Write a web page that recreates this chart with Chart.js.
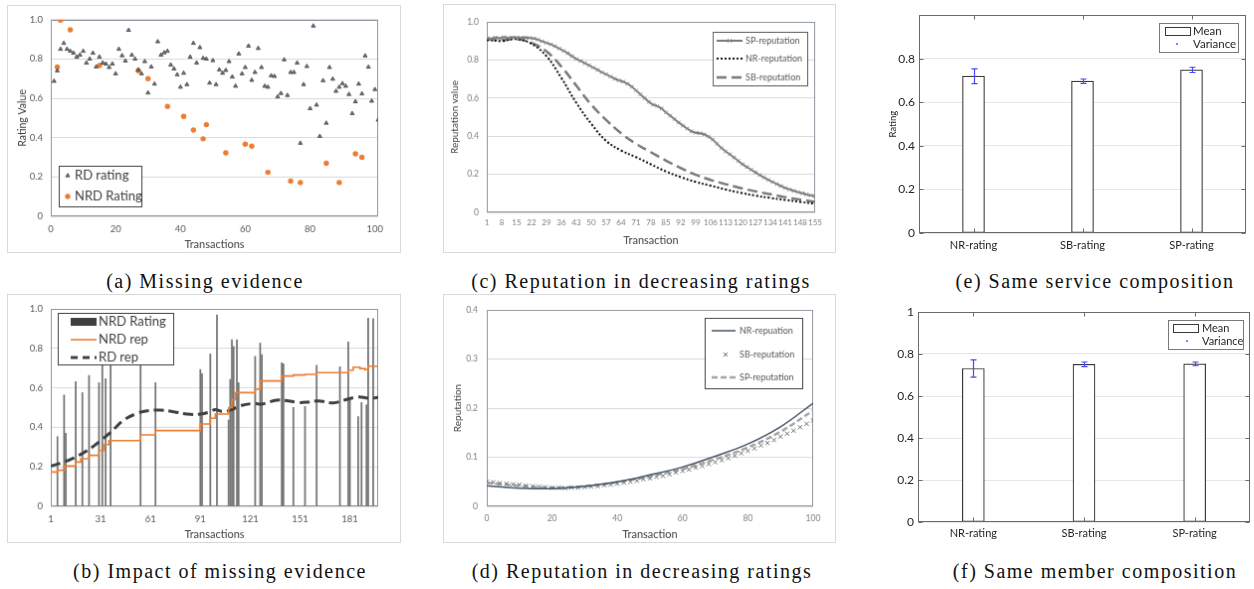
<!DOCTYPE html>
<html>
<head>
<meta charset="utf-8">
<script src="https://cdn.jsdelivr.net/npm/chart.js"></script>
<style>
  body { margin: 0; background: #fff; }
  #page { position: relative; width: 1254px; height: 589px; overflow: hidden; background: #fff; }
  canvas { position: absolute; }
  .framed { border: 1px solid #d9d9d9; }
  .cap { position: absolute; font-family: 'Liberation Serif', serif; font-size: 20px; letter-spacing: 1.5px; color: #111; white-space: nowrap; transform: translate(-50%, -50%); }
</style>
</head>
<body>
<div id="page">
  <canvas id="chA" class="framed" width="394" height="248" style="left:7px;top:5px"></canvas>
  <canvas id="chC" class="framed" width="393" height="249" style="left:443px;top:4px"></canvas>
  <canvas id="chE" width="394" height="258" style="left:860px;top:4px"></canvas>
  <canvas id="chB" class="framed" width="394" height="249" style="left:7px;top:294px"></canvas>
  <canvas id="chD" class="framed" width="393" height="249" style="left:443px;top:294px"></canvas>
  <canvas id="chF" width="394" height="260" style="left:860px;top:294px"></canvas>

  <div class="cap" style="left:205px;top:281px">(a) Missing evidence</div>
  <div class="cap" style="left:641px;top:281px">(c) Reputation in decreasing ratings</div>
  <div class="cap" style="left:1095px;top:281px">(e) Same service composition</div>
  <div class="cap" style="left:220px;top:571px">(b) Impact of missing evidence</div>
  <div class="cap" style="left:642px;top:571px">(d) Reputation in decreasing ratings</div>
  <div class="cap" style="left:1095px;top:571px">(f) Same member composition</div>
</div>
<script>
// (a) missing evidence: RD ratings are transactions 1..101 in order
var rdRating = [0.687,0.74,0.85,0.88,0.85,0.84,0.83,0.81,0.82,0.84,
  0.78,0.80,0.83,0.76,0.81,0.78,0.775,0.757,0.775,0.725,
  0.85,0.817,0.79,0.946,0.82,0.80,0.745,0.725,0.787,0.628,
  0.76,0.673,0.888,0.82,0.832,0.84,0.77,0.75,0.72,0.657,
  0.728,0.67,0.81,0.88,0.78,0.858,0.804,0.80,0.678,0.792,
  0.67,0.745,0.728,0.742,0.787,0.709,0.662,0.826,0.725,0.757,
  0.866,0.692,0.732,0.854,0.757,0.662,0.657,0.715,0.712,0.608,
  0.625,0.796,0.615,0.732,0.732,0.78,0.372,0.67,0.762,0.548,
  0.968,0.566,0.407,0.69,0.474,0.757,0.698,0.636,0.657,0.675,
  0.662,0.62,0.523,0.583,0.673,0.623,0.816,0.759,0.586,0.645,
  0.49];
var nrdTx = [2,3,6,15,27,30,36,41,44,47,48,54,60,62,67,74,77,85,89,94,96];
var nrdRating = [0.759,0.997,0.948,0.767,0.740,0.700,0.559,0.508,0.439,0.394,0.466,0.323,0.367,0.357,0.224,0.179,0.172,0.270,0.172,0.318,0.300];

// (b) impact of missing evidence
var txTicksB = [1,31,61,91,121,151,181];
var ratingTx = [5,9,10,16,20,24,30,32,34,37,55,64,91,92,97,101,108,109,110,111,113,114,124,127,128,140,141,147,154,161,175,180,181,186,188,191,192,195];
var ratingVal = [0.353,0.564,0.37,0.632,0.576,0.663,0.626,0.72,0.646,0.76,0.74,0.626,0.693,0.672,0.772,0.97,0.437,0.643,0.844,0.81,0.844,0.626,0.76,0.827,0.769,0.727,0.722,0.501,0.506,0.714,0.707,0.832,0.55,0.454,0.526,0.514,0.953,0.95];
var nrdRepTx = [1,5,9,16,19,24,30,33,36,55,64,91,97,100,108,110,112,124,127,140,147,154,161,180,183,187,190,192,198];
var nrdRep = [0.174,0.183,0.204,0.224,0.241,0.258,0.283,0.313,0.333,0.362,0.384,0.417,0.446,0.467,0.5,0.54,0.576,0.593,0.635,0.66,0.665,0.668,0.677,0.69,0.705,0.698,0.693,0.71,0.71];
var rdRepTx = [1,7,15,23,31,37,45,53,59,67,75,83,91,97,100,104,109,115,123,128,137,144,150,156,162,171,178,186,192,198];
var rdRep = [0.204,0.219,0.246,0.283,0.333,0.375,0.437,0.471,0.484,0.487,0.479,0.467,0.467,0.479,0.49,0.481,0.487,0.509,0.521,0.518,0.538,0.534,0.526,0.528,0.534,0.524,0.539,0.554,0.548,0.551];

// (c) reputation in decreasing ratings (transactions 1..155)
var txC = [1,8,15,22,29,36,43,50,57,64,71,78,85,92,99,106,113,120,127,134,141,148,155];
// SP-reputation every second transaction (1,3,5,...,155)
var spRepC = [0.915,0.912,0.918,0.914,0.92,0.916,0.919,0.918,0.917,0.918,
  0.916,0.913,0.907,0.898,0.89,0.882,0.872,0.86,0.848,0.835,
  0.82,0.805,0.795,0.783,0.772,0.76,0.748,0.735,0.725,0.713,
  0.702,0.693,0.686,0.675,0.66,0.64,0.62,0.6,0.58,0.565,
  0.558,0.545,0.525,0.508,0.49,0.472,0.455,0.44,0.425,0.418,
  0.415,0.41,0.398,0.382,0.36,0.338,0.32,0.305,0.288,0.27,
  0.252,0.238,0.224,0.21,0.196,0.183,0.171,0.16,0.149,0.138,
  0.128,0.12,0.113,0.106,0.1,0.094,0.089,0.085];
var nrRepC = [0.905,0.9,0.91,0.885,0.82,0.705,0.575,0.465,0.375,0.325,0.29,0.252,0.215,0.185,0.16,0.14,0.12,0.103,0.088,0.076,0.065,0.055,0.045];
var sbRepC = [0.91,0.905,0.91,0.89,0.845,0.765,0.665,0.565,0.485,0.415,0.36,0.315,0.272,0.232,0.197,0.17,0.148,0.128,0.11,0.095,0.08,0.067,0.055];

// (d) reputation, transactions 0..100
var txD = [0,10,20,30,40,50,60,70,80,90,100];
var nrRepD = [0.042,0.037,0.036,0.041,0.05,0.064,0.08,0.102,0.127,0.162,0.21];
var spRepD = [0.048,0.042,0.038,0.041,0.049,0.061,0.076,0.096,0.12,0.152,0.195];
// SB-reputation every second transaction (0,2,...,100)
var sbRepD = [0.050,0.049,0.047,0.046,0.045,0.044,0.042,0.041,0.040,0.039,
  0.038,0.038,0.037,0.038,0.038,0.039,0.040,0.041,0.043,0.044,
  0.046,0.048,0.050,0.052,0.055,0.057,0.060,0.062,0.065,0.069,
  0.072,0.075,0.079,0.082,0.086,0.090,0.094,0.098,0.103,0.108,
  0.113,0.118,0.124,0.129,0.135,0.142,0.148,0.154,0.161,0.168,
  0.175];

// (e), (f) composition bars
var compLabels = ['NR-rating','SB-rating','SP-rating'];
var serviceMean = [0.72,0.697,0.749];
var serviceVar = [0.034,0.01,0.012];
var memberMean = [0.731,0.751,0.753];
var memberVar = [0.041,0.011,0.009];

Chart.defaults.font.family = 'Lato';
Chart.defaults.color = '#595959';
Chart.defaults.animation = false;
Chart.defaults.responsive = false;
Chart.defaults.plugins.legend.display = false;
Chart.defaults.plugins.tooltip.enabled = false;

// grey frame round the excel plot area
function plotBox(color) {
  return {
    id: 'plotBox',
    beforeDatasetsDraw: function(chart) {
      var ctx = chart.ctx, a = chart.chartArea;
      ctx.save();
      ctx.strokeStyle = color;
      ctx.lineWidth = 1;
      ctx.strokeRect(Math.round(a.left) + 0.5, Math.round(a.top) + 0.5, Math.round(a.right - a.left) - 1, Math.round(a.bottom - a.top) - 1);
      ctx.restore();
    }
  };
}

// legend box placed by hand inside the plot
function boxLegend(cfg) {
  return {
    id: 'boxLegend',
    afterDraw: function(chart) {
      var ctx = chart.ctx;
      ctx.save();
      ctx.fillStyle = '#fff';
      ctx.fillRect(cfg.x, cfg.y, cfg.w, cfg.h);
      ctx.strokeStyle = cfg.border;
      ctx.lineWidth = 1;
      ctx.strokeRect(cfg.x + 0.5, cfg.y + 0.5, cfg.w, cfg.h);
      ctx.textBaseline = 'middle';
      cfg.items.forEach(function(it) {
        ctx.save();
        it.draw(ctx, it.y);
        ctx.restore();
        ctx.font = cfg.font;
        ctx.fillStyle = cfg.color;
        ctx.fillText(it.text, cfg.tx, it.y);
      });
      ctx.restore();
    }
  };
}
function lineSwatch(x0, x1, color, width, dash) {
  return function(ctx, y) {
    ctx.strokeStyle = color; ctx.lineWidth = width; ctx.setLineDash(dash || []);
    ctx.beginPath(); ctx.moveTo(x0, y); ctx.lineTo(x1, y); ctx.stroke();
  };
}
function markSwatch(x, style, r, fill, stroke, bw) {
  return function(ctx, y) {
    ctx.fillStyle = fill; ctx.strokeStyle = stroke; ctx.lineWidth = bw; ctx.setLineDash([]);
    Chart.helpers.drawPoint(ctx, {pointStyle: style, radius: r, borderWidth: bw, rotation: 0}, x, y);
  };
}
function rectSwatch(x, w, h, fill, stroke) {
  return function(ctx, y) {
    ctx.fillStyle = fill; ctx.fillRect(x, y - h / 2, w, h);
    if (stroke) { ctx.strokeStyle = stroke; ctx.lineWidth = 1; ctx.strokeRect(x + 0.5, y - h / 2 + 0.5, w, h); }
  };
}
function both(f, g) { return function(ctx, y) { f(ctx, y); g(ctx, y); }; }

// matlab style box with inward ticks
var matlabAxes = {
  id: 'matlabAxes',
  afterDatasetsDraw: function(chart) {
    var ctx = chart.ctx, a = chart.chartArea, xs = chart.scales.x, ys = chart.scales.y;
    var L = Math.round(a.left) + 0.5, R = Math.round(a.right) - 0.5, T = Math.round(a.top) + 0.5, B = Math.round(a.bottom) - 0.5;
    ctx.save();
    ctx.strokeStyle = '#6a6a6a';
    ctx.lineWidth = 1;
    ctx.strokeRect(L, T, R - L, B - T);
    ctx.beginPath();
    ys.ticks.forEach(function(t) {
      var py = Math.round(ys.getPixelForValue(t.value)) + 0.5;
      ctx.moveTo(L, py); ctx.lineTo(L + 4, py);
      ctx.moveTo(R, py); ctx.lineTo(R - 4, py);
    });
    xs.ticks.forEach(function(t, i) {
      var px = Math.round(xs.getPixelForTick(i)) + 0.5;
      ctx.moveTo(px, B); ctx.lineTo(px, B - 4);
      ctx.moveTo(px, T); ctx.lineTo(px, T + 4);
    });
    ctx.stroke();
    ctx.restore();
  }
};

function errorBars(errs) {
  return {
    id: 'errorBars',
    afterDatasetsDraw: function(chart) {
      var ctx = chart.ctx, ys = chart.scales.y, meta = chart.getDatasetMeta(0);
      var means = chart.data.datasets[0].data;
      ctx.save();
      ctx.strokeStyle = '#4747ff';
      ctx.lineWidth = 1.2;
      ctx.beginPath();
      meta.data.forEach(function(bar, i) {
        var x = Math.round(bar.x) + 0.5;
        var hi = ys.getPixelForValue(means[i] + errs[i]);
        var lo = ys.getPixelForValue(means[i] - errs[i]);
        ctx.moveTo(x, hi); ctx.lineTo(x, lo);
        ctx.moveTo(x - 3, hi); ctx.lineTo(x + 3, hi);
        ctx.moveTo(x - 3, lo); ctx.lineTo(x + 3, lo);
      });
      ctx.stroke();
      ctx.restore();
    }
  };
}

var excelBorder = '#8e959e';

// (a)
new Chart(document.getElementById('chA'), {
  type: 'scatter',
  data: {
    datasets: [
      { label: 'RD rating', data: rdRating.map(function(v, i) { return {x: i + 1, y: v}; }),
        pointStyle: 'triangle', pointRadius: 2.3, backgroundColor: '#7a7a7a', borderColor: '#3f3f3f', borderWidth: 0.8 },
      { label: 'NRD Rating', data: nrdTx.map(function(t, i) { return {x: t, y: nrdRating[i]}; }),
        pointStyle: 'circle', pointRadius: 2.7, backgroundColor: '#ed7d31', borderWidth: 0 }
    ]
  },
  options: {
    devicePixelRatio: 1,
    layout: { padding: { top: 13, right: 22, left: 0, bottom: 0 } },
    scales: {
      x: { type: 'linear', min: 0, max: 101, afterFit: function(s) { s.height = 36; },
        grid: { display: false, drawTicks: false }, border: { display: false },
        ticks: { stepSize: 20, includeBounds: false, padding: 7, maxRotation: 0, font: { size: 9.5 } },
        title: { display: true, text: 'Transactions', color: '#404040', font: { size: 11 }, padding: { top: 0, bottom: 1 } } },
      y: { min: 0, max: 1, afterFit: function(s) { s.width = 43; },
        grid: { color: '#d9d9d9', drawTicks: false }, border: { display: false },
        ticks: { stepSize: 0.2, padding: 8, font: { size: 9.5 } },
        title: { display: true, text: 'Rating Value', color: '#404040', font: { size: 10.5 }, padding: { top: 8, bottom: 0 } } }
    }
  },
  plugins: [plotBox(excelBorder), boxLegend({
    x: 51, y: 161, w: 83, h: 41, tx: 67, font: '13px Lato', color: '#404040', border: '#404040',
    items: [
      { text: 'RD rating', y: 171, draw: markSwatch(60, 'triangle', 2.3, '#7a7a7a', '#3f3f3f', 0.8) },
      { text: 'NRD Rating', y: 192, draw: markSwatch(60, 'circle', 2.7, '#ed7d31', '#ed7d31', 0) }
    ]
  })]
});

// (b)
new Chart(document.getElementById('chB'), {
  type: 'bar',
  data: {
    datasets: [
      { type: 'bar', label: 'NRD Rating', order: 3, data: ratingTx.map(function(t, i) { return {x: t, y: ratingVal[i]}; }),
        backgroundColor: '#747474', barThickness: 1.1 },
      { type: 'line', label: 'NRD rep', order: 1, data: nrdRepTx.map(function(t, i) { return {x: t, y: nrdRep[i]}; }),
        borderColor: '#ed7d31', borderWidth: 1.6, pointRadius: 0, stepped: true },
      { type: 'line', label: 'RD rep', order: 2, data: rdRepTx.map(function(t, i) { return {x: t, y: rdRep[i]}; }),
        borderColor: '#404040', borderWidth: 3, borderDash: [10, 5], pointRadius: 0, tension: 0.4 }
    ]
  },
  options: {
    devicePixelRatio: 1,
    layout: { padding: { top: 14, right: 22, left: 0, bottom: 0 } },
    scales: {
      x: { type: 'linear', min: 1, max: 198, offset: false, afterFit: function(s) { s.height = 36; },
        afterBuildTicks: function(s) { s.ticks = txTicksB.map(function(v) { return {value: v}; }); },
        grid: { display: false, drawTicks: false, offset: false }, border: { display: false },
        ticks: { padding: 7, autoSkip: false, maxRotation: 0, font: { size: 9.5 }, callback: function(v) { return v; } },
        title: { display: true, text: 'Transactions', color: '#404040', font: { size: 11 }, padding: { top: 0, bottom: 1 } } },
      y: { min: 0, max: 1, afterFit: function(s) { s.width = 43; },
        grid: { color: '#d9d9d9', drawTicks: false }, border: { display: false },
        ticks: { stepSize: 0.2, padding: 8, font: { size: 9.5 } } }
    }
  },
  plugins: [plotBox(excelBorder), boxLegend({
    x: 50, y: 18, w: 116, h: 52, tx: 91, font: '13px Lato', color: '#404040', border: '#404040',
    items: [
      { text: 'NRD Rating', y: 27, draw: rectSwatch(63, 26, 8, '#404040') },
      { text: 'NRD rep', y: 45, draw: lineSwatch(63, 89, '#ed7d31', 1.6) },
      { text: 'RD rep', y: 63, draw: lineSwatch(63, 89, '#404040', 3, [7, 5]) }
    ]
  })]
});

// (c)
new Chart(document.getElementById('chC'), {
  type: 'line',
  data: {
    datasets: [
      { label: 'SP-reputation', data: spRepC.map(function(v, i) { return {x: 1 + 2 * i, y: v}; }),
        borderColor: '#7a7a7a', borderWidth: 2, pointStyle: 'crossRot', pointRadius: 2.6,
        pointBorderColor: '#8a8a8a', pointBorderWidth: 1, pointBackgroundColor: '#8a8a8a' },
      { label: 'NR-reputation', data: txC.map(function(t, i) { return {x: t, y: nrRepC[i]}; }),
        borderColor: '#111', borderWidth: 2, borderDash: [2, 2], pointRadius: 0, tension: 0.4 },
      { label: 'SB-reputation', data: txC.map(function(t, i) { return {x: t, y: sbRepC[i]}; }),
        borderColor: '#7a7a7a', borderWidth: 2.5, borderDash: [10, 5], pointRadius: 0, tension: 0.4 }
    ]
  },
  options: {
    devicePixelRatio: 1,
    layout: { padding: { top: 17, right: 20, left: 0, bottom: 0 } },
    scales: {
      x: { type: 'linear', min: 1, max: 155, afterFit: function(s) { s.height = 40; },
        afterBuildTicks: function(s) { s.ticks = txC.map(function(v) { return {value: v}; }); },
        grid: { display: false, drawTicks: false }, border: { display: false },
        ticks: { padding: 6, autoSkip: false, maxRotation: 0, color: '#7f7f7f', font: { size: 8 }, callback: function(v) { return v; } },
        title: { display: true, text: 'Transaction', color: '#404040', font: { size: 11 }, padding: { top: 0, bottom: 5 } } },
      y: { min: 0, max: 1, afterFit: function(s) { s.width = 43; },
        grid: { color: '#d9d9d9', drawTicks: false }, border: { display: false },
        ticks: { stepSize: 0.2, padding: 8, color: '#7f7f7f', font: { size: 8.5 } },
        title: { display: true, text: 'Reputation value', color: '#404040', font: { size: 10 }, padding: { top: 5, bottom: 0 } } }
    }
  },
  plugins: [plotBox(excelBorder), boxLegend({
    x: 270, y: 27, w: 95, h: 54, tx: 303, font: '9px Lato', color: '#595959', border: '#5a5a5a',
    items: [
      { text: 'SP-reputation', y: 36, draw: both(lineSwatch(274, 300, '#7a7a7a', 2), markSwatch(287, 'crossRot', 2.6, '#8a8a8a', '#8a8a8a', 1)) },
      { text: 'NR-reputation', y: 54, draw: lineSwatch(274, 300, '#111', 2, [2, 2]) },
      { text: 'SB-reputation', y: 73, draw: lineSwatch(274, 300, '#7a7a7a', 2.5, [10, 5]) }
    ]
  })]
});

// (d)
new Chart(document.getElementById('chD'), {
  type: 'line',
  data: {
    datasets: [
      { label: 'NR-repuation', data: txD.map(function(t, i) { return {x: t, y: nrRepD[i]}; }),
        borderColor: '#44546a', borderWidth: 1.5, pointRadius: 0, tension: 0.4 },
      { label: 'SB-reputation', data: sbRepD.map(function(v, i) { return {x: 2 * i, y: v}; }),
        showLine: false, pointStyle: 'crossRot', pointRadius: 3, pointBorderColor: '#6f6f6f', pointBorderWidth: 1 },
      { label: 'SP-reputation', data: txD.map(function(t, i) { return {x: t, y: spRepD[i]}; }),
        borderColor: '#a5a5a5', borderWidth: 2.5, borderDash: [6, 3], pointRadius: 0, tension: 0.4 }
    ]
  },
  options: {
    devicePixelRatio: 1,
    layout: { padding: { top: 15, right: 22, left: 0, bottom: 0 } },
    scales: {
      x: { type: 'linear', min: 0, max: 100, afterFit: function(s) { s.height = 36; },
        grid: { display: false, drawTicks: false }, border: { display: false },
        ticks: { stepSize: 20, padding: 7, maxRotation: 0, color: '#7f7f7f', font: { size: 8.5 } },
        title: { display: true, text: 'Transaction', color: '#404040', font: { size: 11 }, padding: { top: 0, bottom: 1 } } },
      y: { min: 0, max: 0.4, afterFit: function(s) { s.width = 43; },
        grid: { color: '#d9d9d9', drawTicks: false }, border: { display: false },
        ticks: { stepSize: 0.1, padding: 9, color: '#7f7f7f', font: { size: 8.5 } },
        title: { display: true, text: 'Reputation', color: '#404040', font: { size: 10 }, padding: { top: 8, bottom: 0 } } }
    }
  },
  plugins: [plotBox(excelBorder), boxLegend({
    x: 262, y: 23, w: 98, h: 71, tx: 297, font: '9px Lato', color: '#595959', border: '#404040',
    items: [
      { text: 'NR-repuation', y: 36, draw: lineSwatch(269, 293, '#44546a', 1.5) },
      { text: 'SB-reputation', y: 60, draw: markSwatch(283, 'crossRot', 3, '#6f6f6f', '#6f6f6f', 1) },
      { text: 'SP-reputation', y: 83, draw: lineSwatch(269, 293, '#a5a5a5', 2.5, [6, 3]) }
    ]
  })]
});

// (e), (f) share one layout
function compChart(id, means, errs, pad, yWidth, xHeight, xPad, showTop, yTitle, legend) {
  var yOpts = { min: 0, max: 1, afterFit: function(s) { s.width = yWidth; },
    grid: { color: '#e6e6e6', drawTicks: false }, border: { display: false },
    ticks: { stepSize: 0.2, padding: 4, color: '#262626', font: { size: 12 },
      callback: function(v) { return (v >= 1 && !showTop) ? '' : +v.toFixed(1); } } };
  if (yTitle) {
    yOpts.title = { display: true, text: yTitle, color: '#262626', font: { size: 9.5 }, padding: { top: 27, bottom: 0 } };
  }
  return new Chart(document.getElementById(id), {
    type: 'bar',
    data: { labels: compLabels, datasets: [{ label: 'Mean', data: means, backgroundColor: '#fff', borderColor: '#3a3a3a',
      borderWidth: 1.2, borderSkipped: false, barThickness: 22 }] },
    options: {
      devicePixelRatio: 1,
      layout: { padding: pad },
      scales: {
        x: { afterFit: function(s) { s.height = xHeight; }, grid: { display: false, drawTicks: false }, border: { display: false },
          ticks: { padding: xPad, color: '#262626', font: { size: 11 } } },
        y: yOpts
      }
    },
    plugins: [matlabAxes, errorBars(errs), legend]
  });
}

compChart('chE', serviceMean, serviceVar, { top: 10, right: 8, left: 0, bottom: 0 }, 59, 29, 6, false, 'Rating', boxLegend({
  x: 299, y: 19, w: 79, h: 29, tx: 333, font: '11.5px Lato', color: '#262626', border: '#7a7a7a',
  items: [
    { text: 'Mean', y: 27, draw: rectSwatch(305, 25, 8, '#fff', '#3a3a3a') },
    { text: 'Variance', y: 40, draw: markSwatch(317, 'circle', 0.9, '#4747ff', '#4747ff', 0) }
  ]
}));

compChart('chF', memberMean, memberVar, { top: 18, right: 4, left: 0, bottom: 0 }, 58, 32, 5, true, null, boxLegend({
  x: 308, y: 26, w: 75, h: 29, tx: 342, font: '11px Lato', color: '#262626', border: '#7a7a7a',
  items: [
    { text: 'Mean', y: 34, draw: rectSwatch(313, 25, 8, '#fff', '#3a3a3a') },
    { text: 'Variance', y: 47, draw: markSwatch(327, 'circle', 0.9, '#4747ff', '#4747ff', 0) }
  ]
}));
</script>
</body>
</html>
